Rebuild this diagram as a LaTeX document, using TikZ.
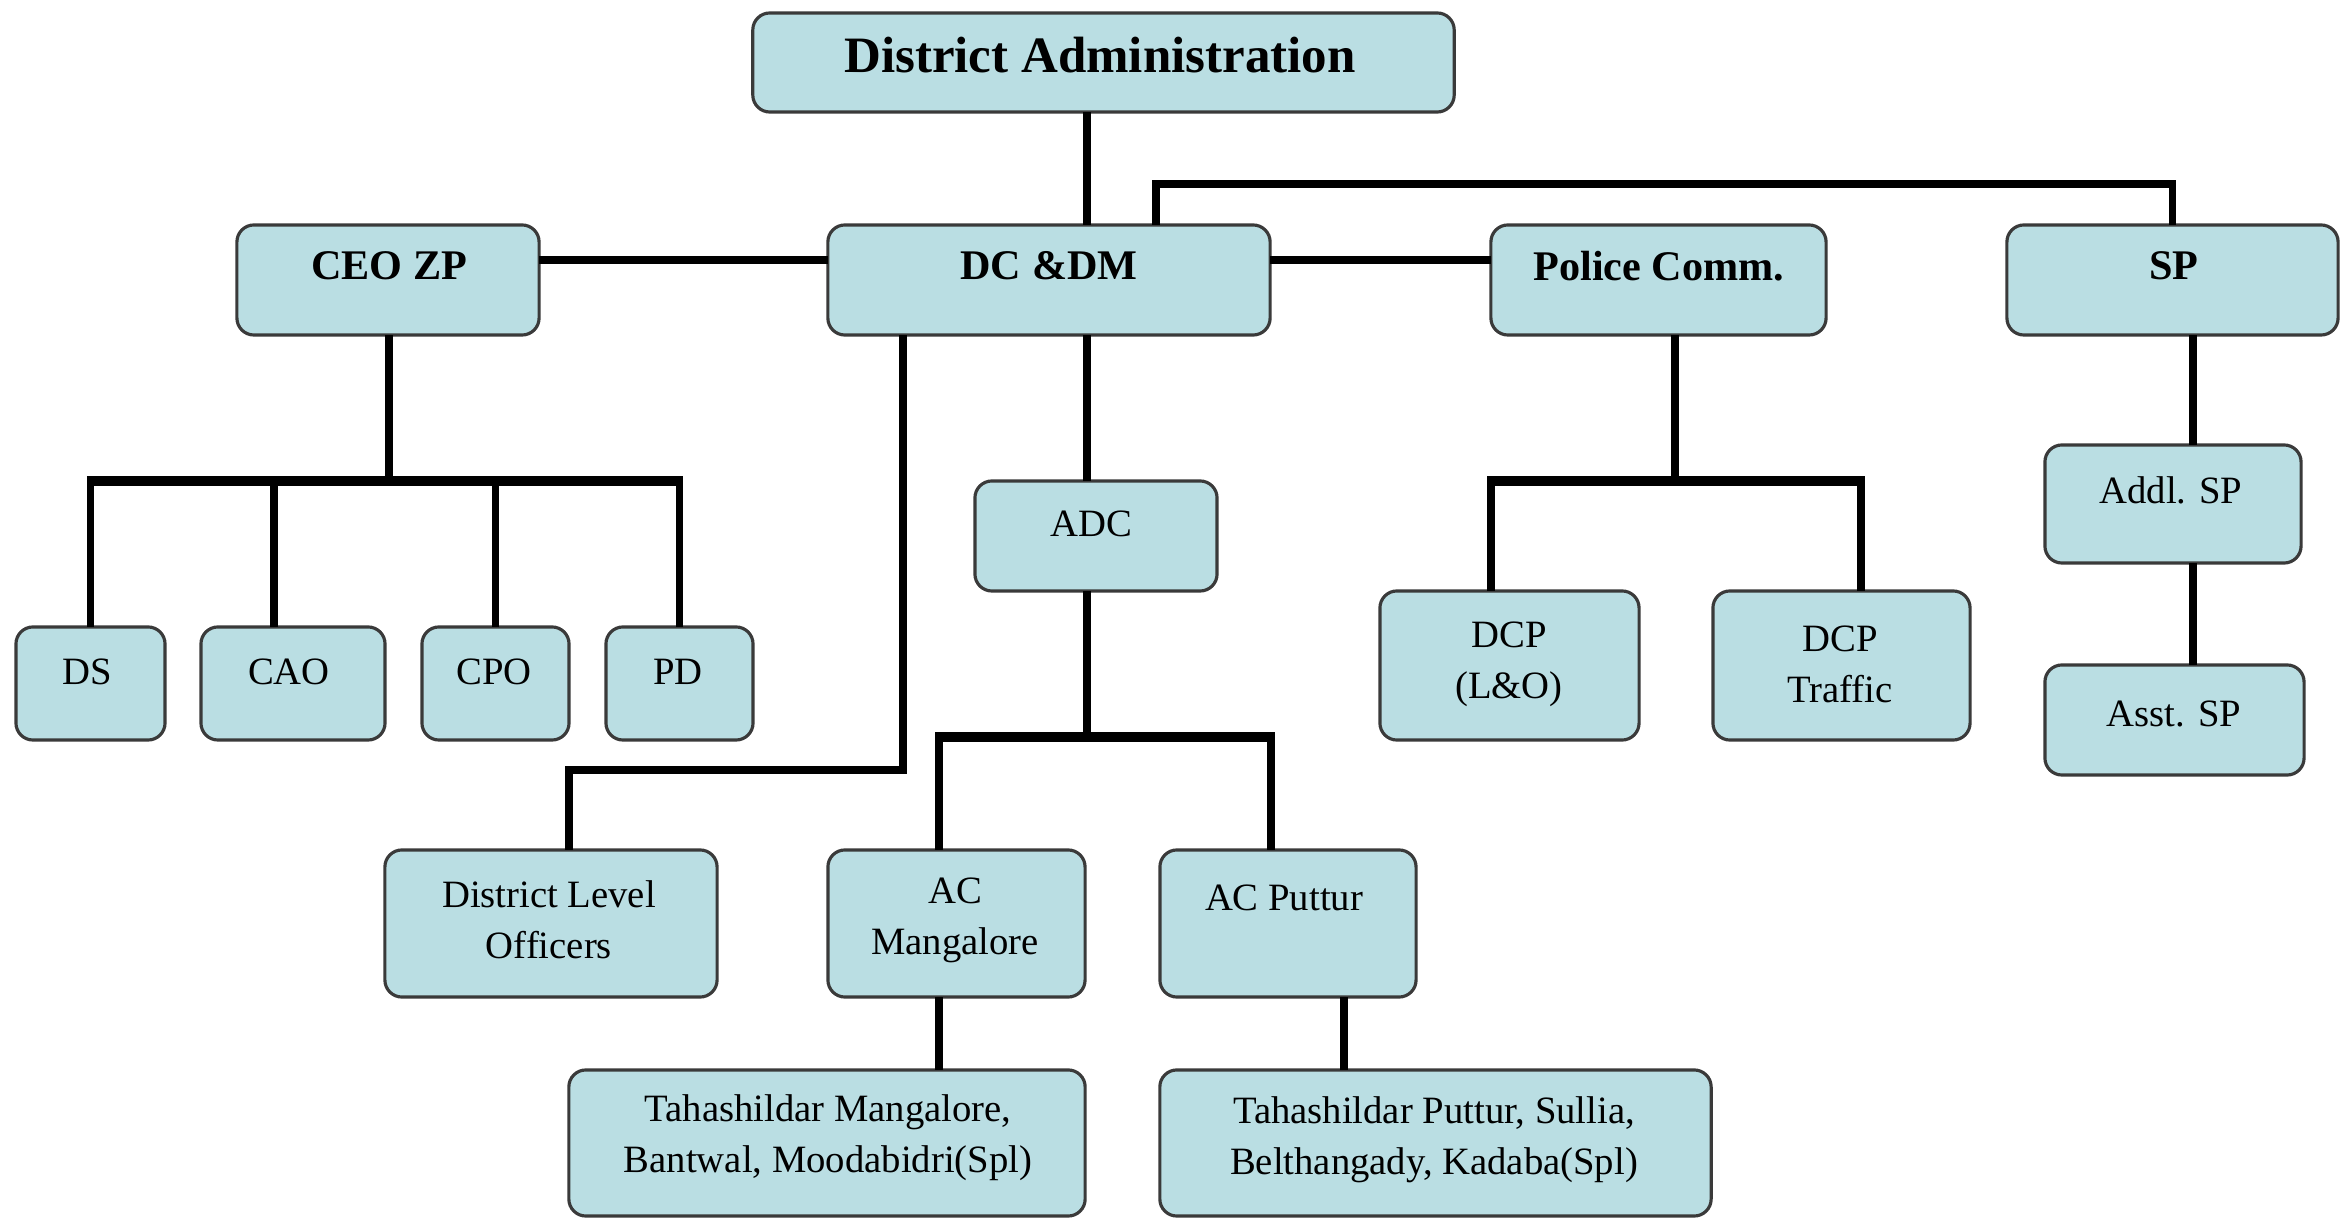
\documentclass[tikz,border=0pt]{standalone}
\usepackage{fontspec}
\setmainfont{Liberation Serif}
\definecolor{boxfill}{RGB}{186,222,227}
\definecolor{boxline}{RGB}{58,58,58}
\newcommand\orgbox[5]{\node[ob, minimum width={(#4-#2)*0.2845276pt}, minimum height={(#5-#3)*0.2845276pt}] (#1) at ({(#2+#4)/2},{(#3+#5)/2}) {};}
\begin{document}
\begin{tikzpicture}[x=0.01cm,y=-0.01cm,
  ob/.style={draw=boxline, line width=0.9pt, fill=boxfill, rounded corners=0.17cm, inner sep=0pt, outer sep=0pt},
  conn/.style={line width=2pt, black},
  bus/.style={line width=2.9pt, black, line cap=butt, shorten <=-1pt, shorten >=-1pt},
  big/.style={font=\fontsize{14.5}{17}\selectfont\bfseries, inner sep=0pt},
  mid/.style={font=\fontsize{12}{14}\selectfont\bfseries, inner sep=0pt},
  sml/.style={font=\fontsize{11}{14.5}\selectfont, align=center, inner sep=0pt}]
\useasboundingbox (0,0) rectangle (2347,1219);
\fill[white] (0,0) rectangle (2347,1219);

% ---------- helper coordinates ----------
\coordinate (xa) at (1087,0);
\coordinate (xb) at (1156,184);
\coordinate (yh) at (0,260);
\coordinate (ceobus) at (389,481);
\coordinate (cao-x) at (274,0);
\coordinate (dlo-bend) at (903,770);
\coordinate (dlo-x) at (569,0);
\coordinate (adcbus) at (1087,737);
\coordinate (acm-x) at (939,0);
\coordinate (acp-x) at (1271,0);
\coordinate (tp-x) at (1344,0);
\coordinate (pcbus) at (1675,481);
\coordinate (dl-x) at (1491,0);
\coordinate (dt-x) at (1861,0);
\coordinate (sp-x) at (2193,0);

% ---------- boxes ----------
\orgbox{da}{753}{13}{1454}{112}
\orgbox{dc}{828}{225}{1270}{335}
\orgbox{ceo}{237}{225}{539}{335}
\orgbox{pc}{1491}{225}{1826}{335}
\orgbox{sp}{2007}{225}{2338}{335}
\orgbox{ds}{16}{627}{165}{740}
\orgbox{cao}{201}{627}{385}{740}
\orgbox{cpo}{422}{627}{569}{740}
\orgbox{pd}{606}{627}{753}{740}
\orgbox{adc}{975}{481}{1217}{591}
\orgbox{dcpl}{1380}{591}{1639}{740}
\orgbox{dcpt}{1713}{591}{1970}{740}
\orgbox{addl}{2045}{445}{2301}{563}
\orgbox{asst}{2045}{665}{2304}{775}
\orgbox{dlo}{385}{850}{717}{997}
\orgbox{acm}{828}{850}{1085}{997}
\orgbox{acp}{1160}{850}{1416}{997}
\orgbox{tm}{569}{1070}{1085}{1216}
\orgbox{tp}{1160}{1070}{1711}{1216}

% ---------- connectors ----------
% top
\draw[conn] (da.south -| xa) -- (dc.north -| xa);
\draw[conn] (dc.north -| xb) -- (xb) -| (sp.north);
\draw[conn] (ceo.east |- yh) -- (dc.west |- yh);
\draw[conn] (dc.east |- yh) -- (pc.west |- yh);
% CEO ZP
\draw[conn] (ceo.south -| ceobus) -- (ceobus);
\draw[bus] (ds.north |- ceobus) -- (pd.north |- ceobus);
\draw[conn] (ds.north |- ceobus) -- (ds.north);
\draw[conn] (cao-x |- ceobus) -- (cao-x |- cao.north);
\draw[conn] (cpo.north |- ceobus) -- (cpo.north);
\draw[conn] (pd.north |- ceobus) -- (pd.north);
% DC -> District Level Officers
\draw[conn] (dc.south -| dlo-bend) -- (dlo-bend) -| (dlo.north -| dlo-x);
% DC -> ADC -> ACs
\draw[conn] (dc.south -| xa) -- (adc.north -| xa);
\draw[conn] (adc.south -| xa) -- (adcbus);
\draw[bus] (acm-x |- adcbus) -- (acp-x |- adcbus);
\draw[conn] (acm-x |- adcbus) -- (acm-x |- acm.north);
\draw[conn] (acp-x |- adcbus) -- (acp-x |- acp.north);
\draw[conn] (acm.south -| acm-x) -- (tm.north -| acm-x);
\draw[conn] (acp.south -| tp-x) -- (tp.north -| tp-x);
% Police Comm.
\draw[conn] (pc.south -| pcbus) -- (pcbus);
\draw[bus] (dl-x |- pcbus) -- (dt-x |- pcbus);
\draw[conn] (dl-x |- pcbus) -- (dl-x |- dcpl.north);
\draw[conn] (dt-x |- pcbus) -- (dt-x |- dcpt.north);
% SP
\draw[conn] (sp.south -| sp-x) -- (addl.north -| sp-x);
\draw[conn] (addl.south -| sp-x) -- (asst.north -| sp-x);

% ---------- texts ----------
\node[big] (t-da) at (1100,55) {District Administration};
\node[mid] (t-dc) at (1049,266) {DC \&DM};
\node[mid] (t-ceo) at (389,266) {CEO ZP};
\node[mid] (t-pc) at (1659,266) {Police Comm.};
\node[mid] (t-sp) at (2174,266) {SP};
\node[sml] (t-ds) at (87,672) {DS};
\node[sml] (t-cao) at (289,672) {CAO};
\node[sml] (t-cpo) at (494,672) {CPO};
\node[sml] (t-pd) at (678,672) {PD};
\node[sml] (t-adc) at (1091,524) {ADC};
\node[sml] (t-dcpl) at (1509,664) {DCP\\(L\&O)};
\node[sml] (t-dcpt) at (1840,664) {DCP\\Traffic};
\node[sml] (t-addl) at (2171,490) {Addl. SP};
\node[sml] (t-asst) at (2174,714) {Asst. SP};
\node[sml] (t-dlo) at (549,920) {District Level\\Officers};
\node[sml] (t-acm) at (955,920) {AC\\Mangalore};
\node[sml] (t-acp) at (1284,898) {AC Puttur};
\node[sml] (t-tm) at (828,1138) {Tahashildar Mangalore,\\Bantwal, Moodabidri(Spl)};
\node[sml] (t-tp) at (1434,1140) {Tahashildar Puttur, Sullia,\\Belthangady, Kadaba(Spl)};
\end{tikzpicture}
\end{document}
